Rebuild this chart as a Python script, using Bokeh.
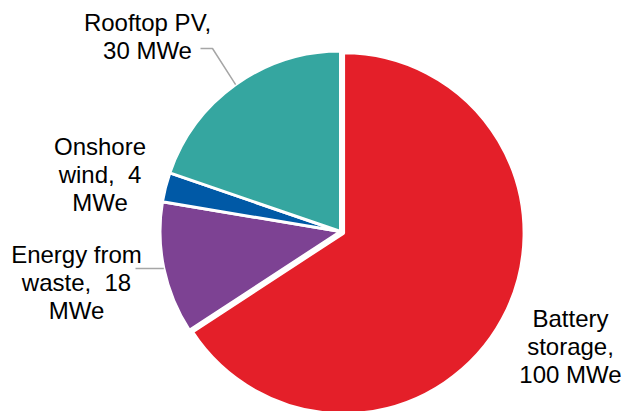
import math
from bokeh.plotting import figure
from bokeh.models import Range1d, ColumnDataSource
from bokeh.core.properties import value
from bokeh.embed import file_html
from bokeh.resources import INLINE

# ---- data ----
categories = ["Battery storage", "Energy from waste", "Onshore wind", "Rooftop PV"]
capacities = [100, 18, 4, 30]  # MWe
labels = ["Battery\nstorage,\n100 MWe", "Energy from\nwaste, \u00a018\nMWe",
          "Onshore\nwind, \u00a04\nMWe", "Rooftop PV,\n30 MWe"]
colors = ["#E41F29", "#7D4293", "#0059A6", "#35A6A0"]

# ---- layout (picture pixel coordinates) ----
FW, FH = 626, 411
CX, CY, R = 340, 231, 180.5
explode = [3.5, 0, 0, 0]
label_pos = [(570, 346), (76, 282), (99.5, 174), (147, 36)]
leader_knee = [None, (135, 268), None, (212, 48)]
leader_start = [None, None, None, (200, 48)]

def py(y):
    return FH - y

p = figure(width=FW, height=FH, output_backend="svg", toolbar_location=None,
           x_range=Range1d(0, FW), y_range=Range1d(0, FH), min_border=0)
p.axis.visible = False
p.grid.visible = False
p.outline_line_color = None
p.background_fill_color = "white"
p.border_fill_color = "white"

total = sum(capacities)
start = math.pi / 2
xs, ys, sa, ea, mids = [], [], [], [], []
for v, ex in zip(capacities, explode):
    sweep = 2 * math.pi * v / total
    end = start - sweep
    mid = start - sweep / 2
    xs.append(CX + ex * math.cos(mid))
    ys.append(py(CY) + ex * math.sin(mid))
    sa.append(start)
    ea.append(end)
    mids.append(mid)
    start = end

src = ColumnDataSource(dict(x=xs, y=ys, sa=sa, ea=ea, color=colors, cat=categories))
p.wedge(x="x", y="y", radius=R, start_angle="sa", end_angle="ea", direction="clock",
        fill_color="color", line_color="white", line_width=3, source=src)

# leader lines
for i in range(len(capacities)):
    if leader_knee[i] is None:
        continue
    ex_ = CX + R * math.cos(mids[i])
    ey_ = py(CY) + R * math.sin(mids[i])
    lx = [leader_knee[i][0], ex_]
    ly = [py(leader_knee[i][1]), ey_]
    if leader_start[i] is not None:
        lx = [leader_start[i][0]] + lx
        ly = [py(leader_start[i][1])] + ly
    p.line(lx, ly, line_color="#A6A6A6", line_width=1.5)

tsrc = ColumnDataSource(dict(x=[lp[0] for lp in label_pos], y=[py(lp[1]) for lp in label_pos],
                             text=labels))
p.text(x="x", y="y", text="text", source=tsrc, text_align="center", text_baseline="middle",
       text_font=value("Liberation Sans"), text_font_size="24px", text_color="#000000",
       text_line_height=1.04)

open("out.html", "w").write(file_html(p, INLINE))
